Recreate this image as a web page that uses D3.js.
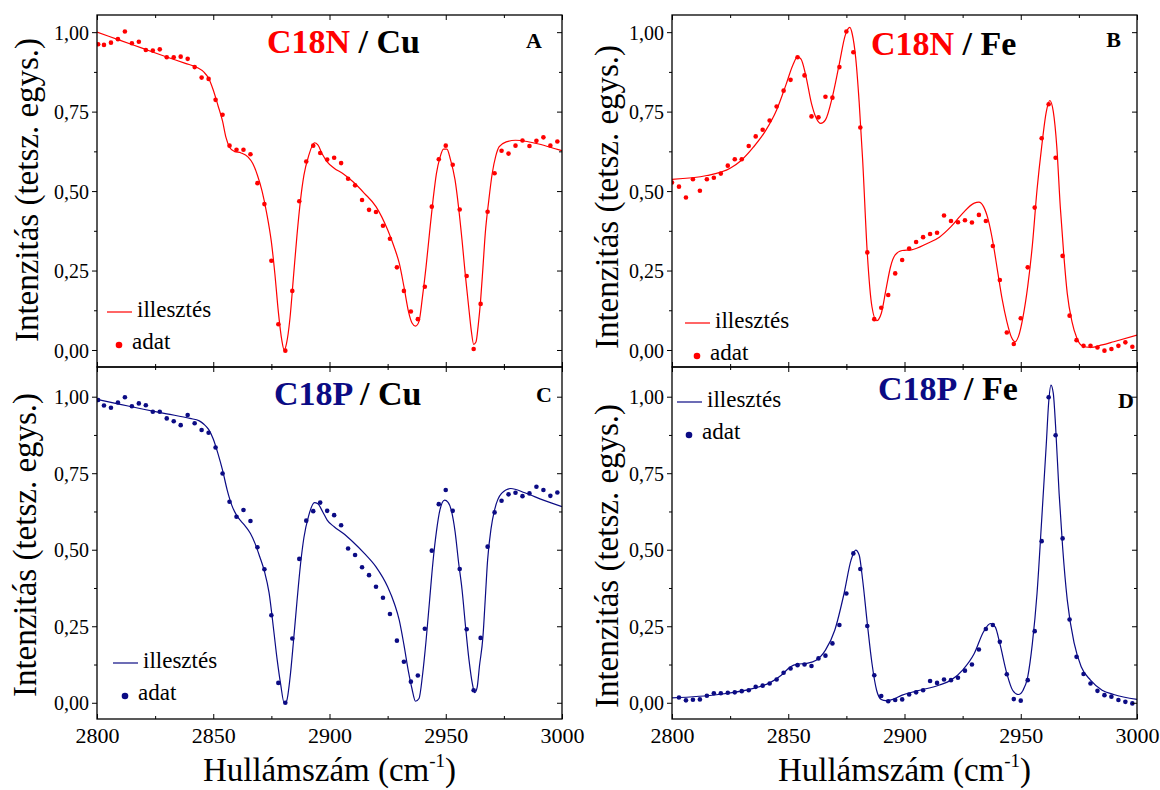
<!DOCTYPE html>
<html>
<head>
<meta charset="utf-8">
<script src="https://cdn.jsdelivr.net/npm/d3@7"></script>
<style>
  body { margin: 0; background: #fff; }
</style>
</head>
<body>
<script>
// --- data: [wavenumber, intensity] ---
var cuNDots = [[2800.5,0.962],[2803,0.960],[2806,0.967],[2809,0.978],[2812,1.002],[2815,0.965],[2818,0.970],[2821,0.944],[2824,0.942],[2827,0.946],[2830,0.921],[2833,0.921],[2836,0.923],[2839,0.916],[2842,0.890],[2845,0.857],[2848,0.853],[2851,0.787],[2854,0.740],[2857,0.643],[2860,0.630],[2863,0.630],[2866,0.616],[2869,0.525],[2872,0.459],[2875,0.281],[2878,0.081],[2881,-0.002],[2884,0.186],[2887,0.468],[2890,0.593],[2893,0.643],[2896,0.620],[2899,0.599],[2902,0.605],[2905,0.588],[2908,0.539],[2911,0.518],[2914,0.472],[2917,0.441],[2920,0.434],[2923,0.391],[2926,0.350],[2929,0.260],[2932,0.186],[2935,0.121],[2938,0.097],[2941,0.199],[2944,0.451],[2947,0.600],[2950,0.643],[2953,0.583],[2956,0.442],[2959,0.233],[2962,0.003],[2965,0.145],[2968,0.435],[2971,0.556],[2974,0.627],[2977,0.618],[2980,0.643],[2983,0.659],[2986,0.642],[2989,0.658],[2992,0.669],[2995,0.643],[2998,0.656]];

var cuNFit = [[2800,1.0],[2810,0.974],[2820,0.948],[2830,0.922],[2838,0.902],[2843,0.889],[2846,0.874],[2848,0.855],[2850,0.818],[2852,0.77],[2854,0.72],[2855.5,0.668],[2857,0.638],[2859,0.625],[2862,0.62],[2865,0.607],[2867,0.587],[2869,0.55],[2871,0.5],[2873,0.43],[2875,0.34],[2876.5,0.24],[2878,0.12],[2879.5,0.03],[2880.5,0.0],[2881.5,0.02],[2883,0.1],[2884.5,0.23],[2886,0.36],[2887.5,0.47],[2889,0.55],[2891,0.61],[2893.5,0.652],[2895,0.645],[2897,0.615],[2899,0.592],[2902,0.572],[2906,0.554],[2910,0.53],[2915,0.493],[2920,0.451],[2925,0.378],[2928,0.32],[2930,0.273],[2932,0.2],[2934,0.12],[2935.5,0.085],[2937,0.075],[2938.5,0.09],[2940,0.168],[2941.5,0.26],[2943,0.367],[2944.5,0.47],[2946,0.556],[2947.5,0.605],[2949,0.632],[2950.5,0.632],[2952,0.6],[2954,0.535],[2955.5,0.45],[2957,0.346],[2958.5,0.23],[2960,0.126],[2961,0.06],[2962,0.018],[2963,0.025],[2964,0.08],[2965,0.157],[2966,0.26],[2967,0.367],[2968.5,0.47],[2970,0.556],[2971.5,0.61],[2973,0.64],[2976,0.655],[2980,0.66],[2985,0.656],[2990,0.648],[2995,0.638],[3000,0.627]];

var feNDots = [[2800,0.527],[2803,0.514],[2806,0.480],[2809,0.537],[2812,0.501],[2815,0.537],[2818,0.542],[2821,0.555],[2824,0.580],[2827,0.600],[2830,0.600],[2833,0.642],[2836,0.672],[2839,0.693],[2842,0.722],[2845,0.766],[2848,0.816],[2851,0.850],[2854,0.921],[2857,0.864],[2860,0.735],[2863,0.732],[2866,0.797],[2869,0.794],[2872,0.890],[2875,1.002],[2878,0.937],[2881,0.700],[2884,0.307],[2887,0.097],[2890,0.133],[2893,0.173],[2896,0.241],[2899,0.283],[2902,0.319],[2905,0.340],[2908,0.355],[2911,0.365],[2914,0.369],[2917,0.423],[2920,0.406],[2923,0.402],[2926,0.408],[2929,0.401],[2932,0.425],[2935,0.406],[2938,0.327],[2941,0.220],[2944,0.055],[2947,0.019],[2950,0.100],[2953,0.260],[2956,0.448],[2959,0.666],[2962,0.773],[2965,0.605],[2968,0.296],[2971,0.108],[2974,0.031],[2977,0.013],[2980,0.013],[2983,0.008],[2986,-0.002],[2989,0.003],[2992,0.013],[2995,0.024],[2998,0.010]];

var feNFit = [[2800,0.537],[2815,0.549],[2825,0.572],[2830,0.598],[2835,0.638],[2840,0.687],[2845,0.755],[2849,0.834],[2852,0.897],[2854,0.922],[2855.5,0.915],[2857.5,0.865],[2860,0.775],[2862,0.73],[2864,0.713],[2866,0.724],[2869,0.797],[2872,0.902],[2874.5,0.99],[2876.5,1.015],[2877.5,0.995],[2879,0.92],[2880.5,0.78],[2882,0.598],[2884,0.304],[2886,0.136],[2888,0.092],[2890,0.115],[2892,0.189],[2894,0.262],[2896,0.299],[2899,0.313],[2903,0.315],[2910,0.336],[2915,0.355],[2920,0.388],[2925,0.43],[2930,0.462],[2932,0.465],[2934,0.451],[2936,0.41],[2938,0.34],[2940,0.25],[2942,0.16],[2944,0.09],[2946,0.04],[2947.5,0.026],[2949,0.042],[2951,0.105],[2953,0.2],[2955,0.33],[2957,0.504],[2959,0.64],[2961,0.75],[2962.5,0.785],[2964,0.75],[2965.5,0.64],[2967,0.451],[2968.5,0.3],[2970,0.178],[2972,0.09],[2974,0.04],[2976,0.015],[2980,0.008],[2985,0.016],[2990,0.026],[3000,0.047]];

var cuPDots = [[2800.5,0.989],[2803,0.971],[2806,0.964],[2809,0.981],[2812,0.998],[2815,0.969],[2818,0.978],[2821,0.972],[2824,0.951],[2827,0.951],[2830,0.929],[2833,0.920],[2836,0.907],[2839,0.940],[2842,0.913],[2845,0.891],[2848,0.882],[2851,0.834],[2854,0.749],[2857,0.657],[2860,0.608],[2863,0.630],[2866,0.594],[2869,0.508],[2872,0.436],[2875,0.286],[2878,0.065],[2881,0.0],[2884,0.210],[2887,0.470],[2890,0.595],[2893,0.626],[2896,0.654],[2899,0.627],[2902,0.613],[2905,0.580],[2908,0.504],[2911,0.483],[2914,0.443],[2917,0.417],[2920,0.379],[2923,0.343],[2926,0.290],[2929,0.203],[2932,0.134],[2935,0.069],[2938,0.089],[2941,0.242],[2944,0.497],[2947,0.649],[2950,0.695],[2953,0.627],[2956,0.437],[2959,0.240],[2962,0.041],[2965,0.212],[2968,0.510],[2971,0.622],[2974,0.660],[2977,0.681],[2980,0.686],[2983,0.675],[2986,0.684],[2989,0.706],[2992,0.695],[2995,0.676],[2998,0.687]];

var cuPFit = [[2800,0.991],[2810,0.975],[2820,0.959],[2830,0.944],[2840,0.929],[2844,0.921],[2846,0.91],[2848,0.893],[2850,0.862],[2852,0.815],[2854,0.76],[2856,0.695],[2858,0.645],[2860,0.613],[2862,0.593],[2864,0.575],[2866,0.553],[2868,0.52],[2870,0.477],[2872,0.43],[2874,0.36],[2876,0.237],[2877.5,0.14],[2879,0.06],[2880.5,0.0],[2881.5,0.005],[2883,0.08],[2884.5,0.2],[2886,0.33],[2887.5,0.45],[2889,0.54],[2891,0.61],[2893.5,0.654],[2895,0.65],[2897,0.625],[2899,0.597],[2902,0.575],[2906,0.553],[2910,0.526],[2915,0.488],[2920,0.444],[2925,0.379],[2928,0.322],[2930,0.27],[2932,0.19],[2934,0.1],[2935.5,0.045],[2937,0.005],[2938.5,0.014],[2940,0.09],[2941.5,0.2],[2943,0.33],[2944.5,0.46],[2946,0.56],[2947.5,0.63],[2949.5,0.662],[2951,0.655],[2952.5,0.625],[2954,0.56],[2955.5,0.46],[2957,0.37],[2958.5,0.25],[2960,0.14],[2961.5,0.06],[2962.5,0.033],[2963.5,0.05],[2964.5,0.12],[2966,0.216],[2967,0.34],[2968,0.466],[2969.5,0.57],[2971,0.63],[2974,0.684],[2978,0.7],[2984,0.686],[2992,0.662],[3000,0.641]];

var fePDots = [[2803,0.017],[2806,0.008],[2809,0.010],[2812,0.011],[2815,0.023],[2818,0.031],[2821,0.031],[2824,0.033],[2827,0.034],[2830,0.038],[2833,0.041],[2836,0.052],[2839,0.056],[2842,0.063],[2845,0.076],[2848,0.098],[2851,0.112],[2854,0.123],[2857,0.125],[2860,0.120],[2863,0.145],[2866,0.154],[2869,0.194],[2872,0.254],[2875,0.357],[2878,0.488],[2881,0.437],[2884,0.251],[2887,0.090],[2890,0.022],[2893,0.005],[2896,0.009],[2899,0.011],[2902,0.027],[2905,0.034],[2908,0.041],[2911,0.071],[2914,0.065],[2917,0.076],[2920,0.074],[2923,0.082],[2926,0.105],[2929,0.125],[2932,0.174],[2935,0.241],[2938,0.254],[2941,0.199],[2944,0.093],[2947,0.012],[2950,0.007],[2953,0.074],[2956,0.234],[2959,0.528],[2962,0.998],[2965,0.874],[2968,0.537],[2971,0.272],[2974,0.150],[2977,0.094],[2980,0.063],[2983,0.039],[2986,0.025],[2989,0.020],[2992,0.009],[2995,0.003],[2998,-0.002]];

var fePFit = [[2800,0.016],[2820,0.027],[2835,0.047],[2842,0.065],[2847,0.09],[2851,0.118],[2854,0.126],[2858,0.129],[2862,0.139],[2866,0.172],[2870,0.237],[2874,0.357],[2877,0.466],[2879,0.499],[2880.5,0.483],[2882,0.401],[2884,0.259],[2886,0.129],[2888,0.041],[2890,0.011],[2892,0.007],[2895,0.011],[2899,0.025],[2905,0.038],[2915,0.058],[2920,0.074],[2925,0.107],[2930,0.161],[2934,0.232],[2937,0.259],[2939,0.248],[2941,0.194],[2944,0.096],[2946.5,0.041],[2949,0.027],[2951,0.041],[2953,0.085],[2955,0.194],[2957,0.357],[2959,0.597],[2961,0.847],[2962,0.98],[2963,1.038],[2964,1.011],[2965,0.902],[2966.5,0.684],[2968,0.51],[2970,0.336],[2973,0.194],[2976,0.118],[2980,0.074],[2985,0.041],[2990,0.027],[3000,0.011]];

var yTicks = [0, 0.25, 0.5, 0.75, 1];
var yMinor = [0.125, 0.375, 0.625, 0.875];
var xTicks = [2800, 2850, 2900, 2950, 3000];
var xMinor = [2825, 2875, 2925, 2975];

var RED = "#ff0000", NAVY = "#0b0b84";
var FONT = "'Book Antiqua', 'Palatino Linotype', Palatino, 'URW Palladio L', 'P052', " +
  "'Times New Roman', Times, Tinos, 'Liberation Serif', 'DejaVu Serif', 'Noto Serif', FreeSerif, Georgia, serif";

var width = 1160,
    height = 790;

var svg = d3.select("body")
  .append("svg")
  .attr("width", width)
  .attr("height", height)
  .style("background", "#fff");

var fmt = function(d) { return d3.format(".2f")(d).replace(".", ","); };

var panels = [
  {dots: cuNDots, fit: cuNFit, color: RED, name: "C18N", metal: "Cu", letter: "A",
   left: 97, top: 15, ymin: -0.0535, ymax: 1.054, xlab: false,
   titleX: 267, titleY: 53, letterX: 542, letterY: 48,
   legX: 107, legY: 312, ytX: 38, ytY: 190},
  {dots: feNDots, fit: feNFit, color: RED, name: "C18N", metal: "Fe", letter: "B",
   left: 672, top: 15, ymin: -0.0535, ymax: 1.054, xlab: false,
   titleX: 871, titleY: 55, letterX: 1121, letterY: 47,
   legX: 685, legY: 323, ytX: 618, ytY: 197},
  {dots: cuPDots, fit: cuPFit, color: NAVY, name: "C18P", metal: "Cu", letter: "C",
   left: 97, top: 367, ymin: -0.053, ymax: 1.097, xlab: true,
   titleX: 274, titleY: 405, letterX: 552, letterY: 402,
   legX: 113, legY: 663, ytX: 36, ytY: 545},
  {dots: fePDots, fit: fePFit, color: NAVY, name: "C18P", metal: "Fe", letter: "D",
   left: 672, top: 367, ymin: -0.053, ymax: 1.097, xlab: true,
   titleX: 878, titleY: 400, letterX: 1134, letterY: 408,
   legX: 677, legY: 402, ytX: 618, ytY: 556}
];

var pw = 465, ph = 352;

panels.forEach(function(p) {
  var x = d3.scaleLinear().domain([2800, 3000]).range([p.left, p.left + pw]);
  var y = d3.scaleLinear().domain([p.ymin, p.ymax]).range([p.top + ph, p.top]);

  var g = svg.append("g");

  // clip so curves stay inside the frame
  var cid = "clip" + p.letter;
  g.append("clipPath").attr("id", cid)
    .append("rect").attr("x", p.left).attr("y", p.top).attr("width", pw).attr("height", ph);

  var plot = g.append("g").attr("clip-path", "url(#" + cid + ")");

  var line = d3.line()
    .x(function(d) { return x(d[0]); })
    .y(function(d) { return y(d[1]); })
    .curve(d3.curveMonotoneX);

  plot.append("path")
    .datum(p.fit)
    .attr("d", line)
    .attr("fill", "none")
    .attr("stroke", p.color)
    .attr("stroke-width", 1.2);

  plot.selectAll(".dot")
    .data(p.dots)
    .enter()
    .append("circle")
    .attr("cx", function(d) { return x(d[0]); })
    .attr("cy", function(d) { return y(d[1]); })
    .attr("r", 2.3)
    .attr("fill", p.color);

  // axes
  var bottom = p.top + ph, right = p.left + pw;

  function styleAxis(sel) {
    sel.select(".domain").remove();
    sel.selectAll("line").attr("stroke", "#000").attr("stroke-width", 1);
    sel.selectAll("text").attr("fill", "#000").style("font-family", FONT);
  }

  g.append("g").attr("transform", "translate(" + p.left + ",0)")
    .call(d3.axisLeft(y).tickValues(yTicks).tickSize(5).tickPadding(3).tickFormat(fmt))
    .call(styleAxis)
    .selectAll("text").style("font-size", "20px").attr("dy", "0.36em");
  g.append("g").attr("transform", "translate(" + p.left + ",0)")
    .call(d3.axisLeft(y).tickValues(yMinor).tickSize(3).tickFormat(""))
    .call(styleAxis);

  g.append("g").attr("transform", "translate(" + right + ",0)")
    .call(d3.axisRight(y).tickValues(yTicks).tickSize(-5).tickFormat(""))
    .call(styleAxis);
  g.append("g").attr("transform", "translate(" + right + ",0)")
    .call(d3.axisRight(y).tickValues(yMinor).tickSize(-3).tickFormat(""))
    .call(styleAxis);

  g.append("g").attr("transform", "translate(0," + p.top + ")")
    .call(d3.axisTop(x).tickValues(xTicks).tickSize(-5).tickFormat(""))
    .call(styleAxis);
  g.append("g").attr("transform", "translate(0," + p.top + ")")
    .call(d3.axisTop(x).tickValues(xMinor).tickSize(-3).tickFormat(""))
    .call(styleAxis);

  var xb = g.append("g").attr("transform", "translate(0," + bottom + ")")
    .call(d3.axisBottom(x).tickValues(xTicks).tickSize(-5).tickPadding(8)
      .tickFormat(p.xlab ? d3.format("d") : ""))
    .call(styleAxis);
  xb.selectAll("text").style("font-size", "22px");
  g.append("g").attr("transform", "translate(0," + bottom + ")")
    .call(d3.axisBottom(x).tickValues(xMinor).tickSize(-3).tickFormat(""))
    .call(styleAxis);

  g.append("rect")
    .attr("x", p.left).attr("y", p.top)
    .attr("width", pw).attr("height", ph)
    .attr("fill", "none")
    .attr("stroke", "#000")
    .attr("stroke-width", 1.3);

  // title
  var t = g.append("text")
    .attr("x", p.titleX).attr("y", p.titleY)
    .style("font-family", FONT)
    .style("font-size", "34px").style("font-weight", "bold");
  t.append("tspan").attr("fill", p.color).text(p.name);
  t.append("tspan").attr("fill", "#000").text(" / " + p.metal);

  g.append("text")
    .attr("x", p.letterX).attr("y", p.letterY)
    .attr("text-anchor", "end")
    .style("font-family", FONT)
    .style("font-size", "22px").style("font-weight", "bold")
    .text(p.letter);

  // legend
  g.append("line")
    .attr("x1", p.legX).attr("x2", p.legX + 25)
    .attr("y1", p.legY).attr("y2", p.legY)
    .attr("stroke", p.color).attr("stroke-width", 1.2);
  g.append("text")
    .attr("x", p.legX + 30).attr("y", p.legY + 5)
    .style("font-family", FONT)
    .style("font-size", "23px")
    .text("illesztés");
  g.append("circle")
    .attr("cx", p.legX + 12).attr("cy", p.legY + 33)
    .attr("r", 3.3).attr("fill", p.color);
  g.append("text")
    .attr("x", p.legX + 25).attr("y", p.legY + 37)
    .style("font-family", FONT)
    .style("font-size", "23px")
    .text("adat");

  // y title
  g.append("text")
    .attr("transform", "translate(" + p.ytX + "," + p.ytY + ") rotate(-90)")
    .attr("text-anchor", "middle")
    .style("font-family", FONT)
    .style("font-size", "33px")
    .text("Intenzitás (tetsz. egys.)");

  // x title (bottom row only)
  if (p.xlab) {
    var xt = g.append("text")
      .attr("x", p.left + pw / 2)
      .attr("y", 781)
      .attr("text-anchor", "middle")
      .style("font-family", FONT)
      .style("font-size", "33px");
    xt.append("tspan").text("Hullámszám (cm");
    xt.append("tspan").attr("dy", -14).style("font-size", "19px").text("-1");
    xt.append("tspan").attr("dy", 14).text(")");
  }
});
</script>
</body>
</html>
